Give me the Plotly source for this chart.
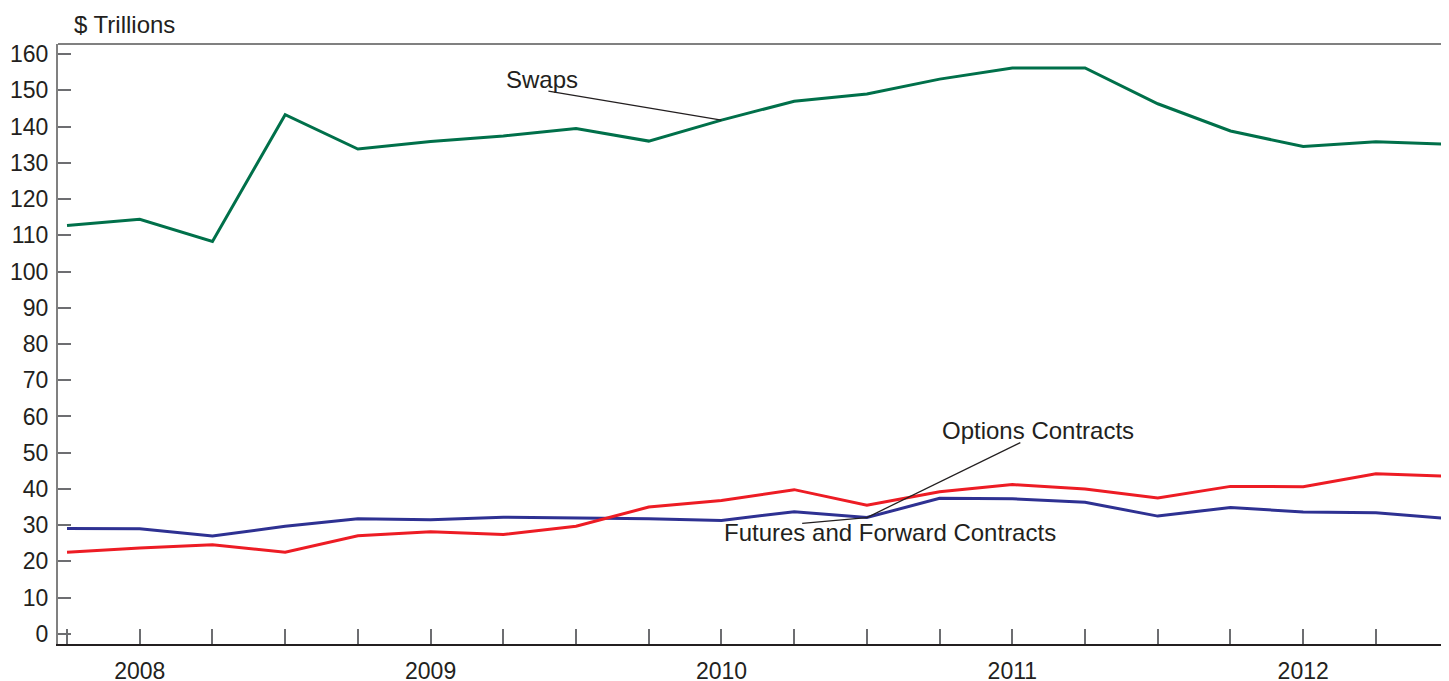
import plotly.graph_objects as go

quarters = ["2007Q4",
            "2008Q1", "2008Q2", "2008Q3", "2008Q4",
            "2009Q1", "2009Q2", "2009Q3", "2009Q4",
            "2010Q1", "2010Q2", "2010Q3", "2010Q4",
            "2011Q1", "2011Q2", "2011Q3", "2011Q4",
            "2012Q1", "2012Q2", "2012Q3"]

swaps = [112.7, 114.4, 108.3, 143.3, 133.8, 135.9, 137.4, 139.5, 136.0, 141.8,
         147.0, 149.0, 153.1, 156.2, 156.2, 146.3, 138.8, 134.5, 135.8, 135.1]
options = [22.5, 23.7, 24.6, 22.5, 27.1, 28.2, 27.4, 29.7, 35.0, 36.8,
           39.8, 35.5, 39.2, 41.2, 40.0, 37.5, 40.7, 40.6, 44.2, 43.5]
futures = [29.1, 29.0, 27.0, 29.7, 31.8, 31.5, 32.2, 32.0, 31.8, 31.3,
           33.7, 32.1, 37.4, 37.3, 36.3, 32.5, 34.9, 33.6, 33.4, 31.8]

year_labels = {"2008Q1": "2008", "2009Q1": "2009", "2010Q1": "2010",
               "2011Q1": "2011", "2012Q1": "2012"}
y_ticks = list(range(0, 161, 10))

FONT = "Liberation Sans, Arial, sans-serif"
TXT = "#231F20"
GREEN = "#00704A"
RED = "#ED1C24"
BLUE = "#2E3192"

fig = go.Figure()
fig.add_trace(go.Scatter(x=quarters, y=futures, mode="lines", name="Futures and Forward Contracts",
                         line=dict(color=BLUE, width=3)))
fig.add_trace(go.Scatter(x=quarters, y=options, mode="lines", name="Options Contracts",
                         line=dict(color=RED, width=3)))
fig.add_trace(go.Scatter(x=quarters, y=swaps, mode="lines", name="Swaps",
                         line=dict(color=GREEN, width=3)))

# page body has an 8px margin: figure occupies 1441x673 starting at (8, 8)
fig.update_layout(
    template="none",
    width=1441, height=673,
    margin=dict(l=50, r=0, t=36, b=37, autoexpand=False),
    paper_bgcolor="white", plot_bgcolor="white",
    showlegend=False,
    font=dict(family=FONT, size=23, color=TXT),
)

fig.update_xaxes(
    type="category",
    range=[-0.124, 19.005],
    tickvals=quarters,
    ticktext=[year_labels.get(q, "") for q in quarters],
    ticks="inside", ticklen=15, tickwidth=1.5, tickcolor="#6d6e71",
    ticklabelstandoff=6,
    showline=True, linecolor=TXT, linewidth=1.5,
    showgrid=False, zeroline=False, automargin=False,
    tickfont=dict(family=FONT, size=23, color=TXT),
)
fig.update_yaxes(
    range=[-2.8, 162.8],
    tickvals=y_ticks,
    ticks="inside", ticklen=13, tickwidth=1.5, tickcolor="#6d6e71",
    ticklabelstandoff=3,
    showline=True, linecolor="#808080", linewidth=2,
    showgrid=False, zeroline=False, automargin=False,
    tickfont=dict(family=FONT, size=23, color=TXT),
)

# top frame line
fig.add_shape(type="line", xref="paper", yref="paper", x0=0, x1=1, y0=1, y1=1,
              line=dict(color="#808080", width=2))

# leader lines
fig.add_shape(type="line", xref="x", yref="y", x0=6.62, y0=149.8, x1=9, y1=swaps[9],
              line=dict(color=TXT, width=1.3))
fig.add_shape(type="line", xref="x", yref="y", x0=13.11, y0=52.8, x1=11, y1=futures[11],
              line=dict(color=TXT, width=1.3))
fig.add_shape(type="line", xref="x", yref="y", x0=10.11, y0=30.5, x1=11, y1=futures[11],
              line=dict(color=TXT, width=1.3))

# labels
fig.add_annotation(text="$ Trillions", xref="paper", yref="paper", x=14 / 1391, y=1,
                   xanchor="left", yanchor="bottom", yshift=4, showarrow=False,
                   font=dict(family=FONT, size=24, color=TXT))
fig.add_annotation(text="Swaps", xref="x", yref="y", x=6.01, y=153.1, xanchor="left", yanchor="middle",
                   showarrow=False, font=dict(family=FONT, size=24, color=TXT))
fig.add_annotation(text="Options Contracts", xref="x", yref="y", x=12.0, y=56.2, xanchor="left",
                   yanchor="middle", showarrow=False, font=dict(family=FONT, size=24, color=TXT))
fig.add_annotation(text="Futures and Forward Contracts", xref="x", yref="y", x=9.01, y=28.0,
                   xanchor="left", yanchor="middle", showarrow=False,
                   font=dict(family=FONT, size=24, color=TXT))

fig.write_html("out.html")
